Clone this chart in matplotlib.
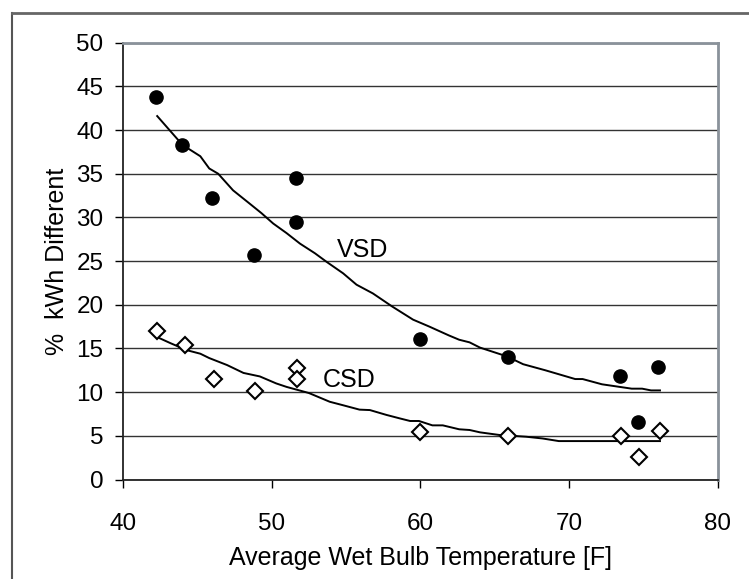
import matplotlib
matplotlib.use("Agg")
import matplotlib.pyplot as plt
from matplotlib.lines import Line2D

plt.rcParams['font.family'] = ['Liberation Sans', 'DejaVu Sans']

# measured points
vsd_x = [42.2, 44.0, 46.0, 48.8, 51.6, 51.6, 60.0, 65.9, 73.4, 74.6, 76.0]
vsd_y = [43.8, 38.3, 32.2, 25.7, 34.5, 29.5, 16.1, 14.0, 11.9, 6.6, 12.9]
csd_x = [42.3, 44.2, 46.1, 48.9, 51.7, 51.7, 60.0, 65.9, 73.5, 74.7, 76.1]
csd_y = [17.0, 15.4, 11.5, 10.1, 12.8, 11.5, 5.4, 5.0, 5.0, 2.6, 5.5]

# trend lines (traced)
vsd_fit_x = [42.3, 44.0, 45.2, 45.8, 46.4, 47.4, 48.5, 49.3, 50.1, 51.0, 51.9, 52.9,
             53.7, 54.8, 55.7, 56.8, 58.1, 59.5, 60.6, 61.9, 62.6, 63.3, 64.0, 65.8,
             66.9, 68.4, 70.4, 70.9, 72.2, 73.4, 74.2, 74.9, 75.5, 76.1]
vsd_fit_y = [41.6, 38.3, 37.0, 35.6, 35.0, 33.1, 31.6, 30.5, 29.3, 28.2, 27.0, 25.9,
             24.9, 23.6, 22.3, 21.3, 19.8, 18.3, 17.5, 16.5, 16.0, 15.7, 15.1, 14.1,
             13.2, 12.5, 11.5, 11.5, 10.9, 10.6, 10.4, 10.4, 10.2, 10.2]
csd_fit_x = [42.3, 43.2, 44.3, 45.2, 45.8, 47.0, 48.1, 49.2, 50.3, 51.0, 52.5, 53.9,
             54.8, 55.9, 56.6, 57.7, 58.6, 59.3, 59.9, 60.8, 61.5, 62.6, 63.3, 64.0,
             65.3, 67.1, 68.2, 69.3, 76.1]
csd_fit_y = [16.3, 15.6, 14.8, 14.4, 13.9, 13.1, 12.2, 11.8, 11.0, 10.6, 9.9, 8.9,
             8.5, 8.0, 7.95, 7.4, 7.0, 6.7, 6.7, 6.2, 6.2, 5.75, 5.67, 5.4,
             5.1, 4.9, 4.7, 4.4, 4.4]

fig = plt.figure(figsize=(7.49, 5.79), dpi=100)
ax = fig.add_axes([0.1642, 0.1718, 0.7944, 0.7545])

ax.plot(vsd_fit_x, vsd_fit_y, color='black', lw=1.4, zorder=3)
ax.plot(csd_fit_x, csd_fit_y, color='black', lw=1.4, zorder=3)
ax.plot(vsd_x, vsd_y, 'o', color='black', markersize=9.5, zorder=4, clip_on=False)
ax.plot(csd_x, csd_y, 'D', markerfacecolor='white', markeredgecolor='black',
        markeredgewidth=1.5, markersize=8, zorder=4, clip_on=False)

ax.text(56.1, 26.3, 'VSD', fontsize=18, ha='center', va='center')
ax.text(55.2, 11.4, 'CSD', fontsize=18, ha='center', va='center')

ax.set_xlim(40, 80)
ax.set_ylim(0, 50)
ax.set_xticks([40, 50, 60, 70, 80])
ax.set_yticks(range(0, 51, 5))
ax.yaxis.grid(True, color='#333333', lw=1.0)
ax.set_axisbelow(True)

for s in ['left', 'bottom']:
    ax.spines[s].set_color('#222222')
    ax.spines[s].set_linewidth(1.3)
for s in ['top', 'right']:
    ax.spines[s].set_color('#8a929a')
    ax.spines[s].set_linewidth(2.0)

ax.tick_params(axis='y', direction='out', length=6, width=1, pad=8, labelsize=17.5)
ax.tick_params(axis='x', direction='out', length=6, width=1, pad=18, labelsize=17.5)

ax.set_xlabel('Average Wet Bulb Temperature [F]', fontsize=18, labelpad=8)
ax.set_ylabel('%  kWh Different', fontsize=18, labelpad=5)

# outer frame
fig.add_artist(Line2D([12 / 749, 12 / 749], [0, 1 - 13 / 579], color='#555555', lw=1.5))
fig.add_artist(Line2D([12 / 749, 1], [1 - 13 / 579, 1 - 13 / 579], color='#666666', lw=2))

fig.savefig('out.png', dpi=100)
